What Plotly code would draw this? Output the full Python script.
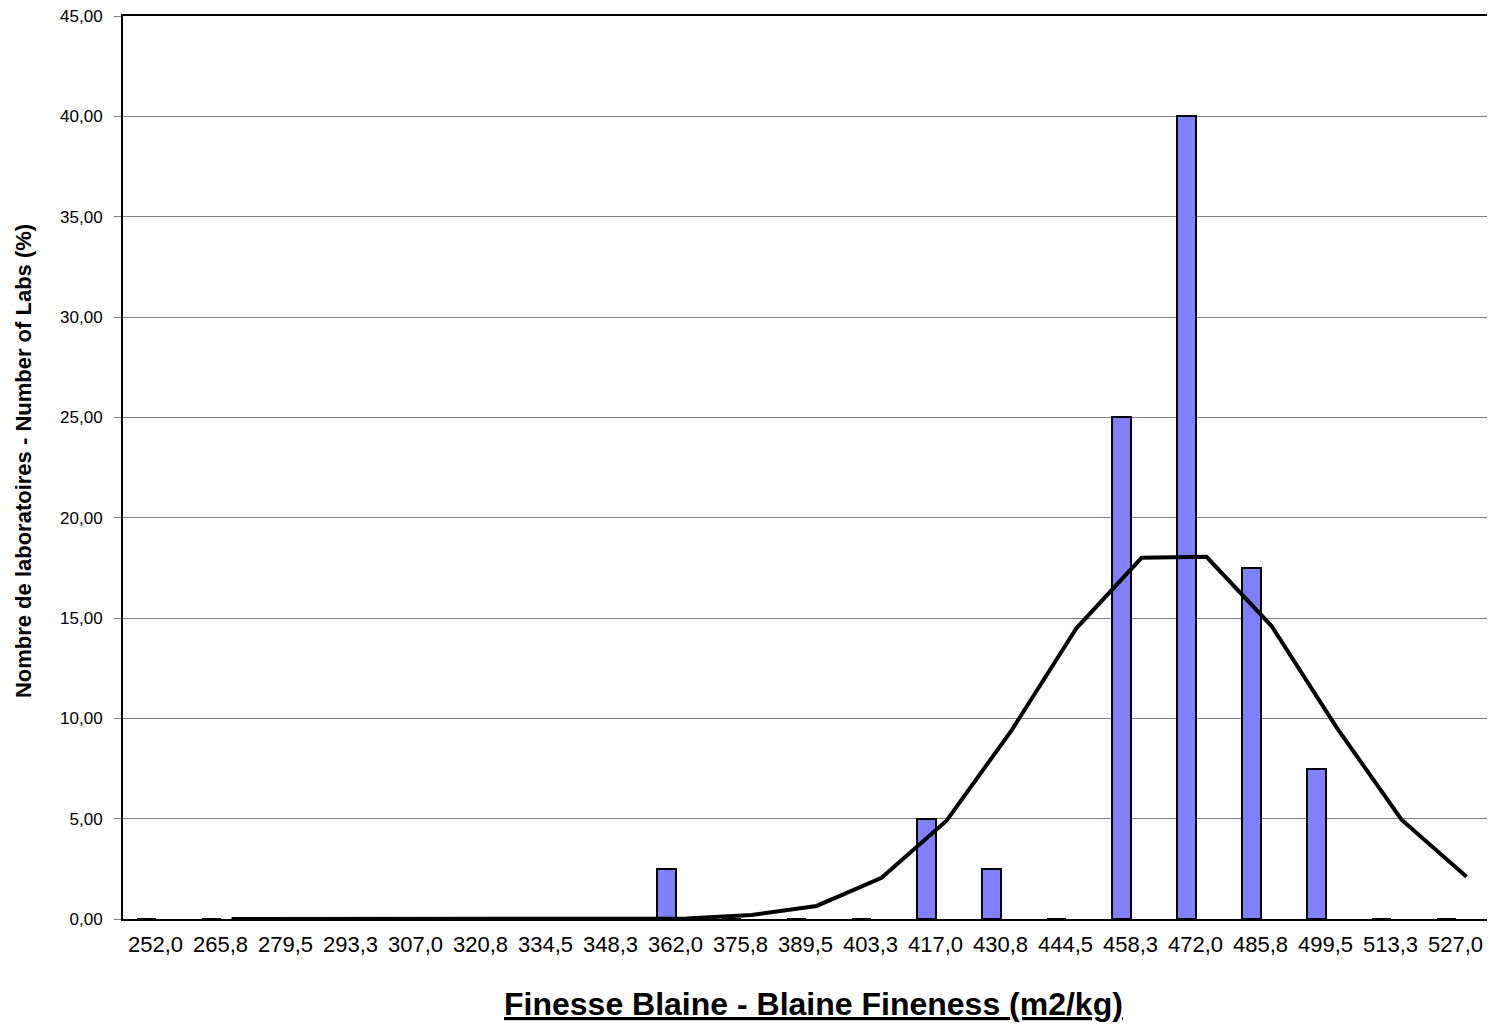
import plotly.graph_objects as go

categories = ["252,0", "265,8", "279,5", "293,3", "307,0", "320,8", "334,5", "348,3", "362,0", "375,8",
              "389,5", "403,3", "417,0", "430,8", "444,5", "458,3", "472,0", "485,8", "499,5", "513,3", "527,0"]
labs_pct = [0, 0, 0, 0, 0, 0, 0, 0, 2.5, 0, 0, 0, 5.0, 2.5, 0, 25.0, 40.0, 17.5, 7.5, 0, 0]
normal_curve = [None, 0.0, 0.0, 0.0, 0.0, 0.0, 0.0, 0.01, 0.03, 0.2, 0.65, 2.05, 4.9, 9.4, 14.5,
                18.0, 18.05, 14.6, 9.55, 4.95, 2.1]
y_ticks = [0, 5, 10, 15, 20, 25, 30, 35, 40, 45]
y_tick_labels = ["0,00", "5,00", "10,00", "15,00", "20,00", "25,00", "30,00", "35,00", "40,00", "45,00"]

idx = list(range(len(categories)))
bar_x = [i - 0.14 for i in idx]
line_x = [i + 0.17 for i in idx]

fig = go.Figure()
fig.add_trace(go.Bar(
    x=bar_x, y=labs_pct, width=0.28,
    marker=dict(color="#8080FF", line=dict(color="black", width=2)),
    showlegend=False, hoverinfo="y"))
fig.add_trace(go.Scatter(
    x=line_x, y=normal_curve, mode="lines",
    line=dict(color="black", width=4), connectgaps=False,
    showlegend=False))

font_family = "Arial, Liberation Sans, sans-serif"
fig.update_layout(
    width=1487, height=1019,
    margin=dict(l=115, r=7, t=8, b=108),
    paper_bgcolor="white", plot_bgcolor="white",
    font=dict(family=font_family, size=17, color="black"),
    bargap=0,
    xaxis=dict(
        range=[-0.5, 20.5], automargin=False,
        tickmode="array", tickvals=idx, ticktext=categories,
        showgrid=False, zeroline=False,
        showline=True, linecolor="black", linewidth=2, mirror=True,
        ticks="", tickfont=dict(size=22), ticklabelstandoff=5,
        ticklabeloverflow="allow",
    ),
    yaxis=dict(
        range=[0, 45], automargin=False,
        tickmode="array", tickvals=y_ticks, ticktext=y_tick_labels,
        showgrid=True, gridcolor="#808080", gridwidth=1,
        zeroline=False,
        showline=True, linecolor="black", linewidth=2, mirror=True,
        ticks="outside", ticklen=7, tickcolor="#808080", tickwidth=1,
        tickfont=dict(size=17), ticklabelstandoff=8,
        ticklabeloverflow="allow",
    ),
    annotations=[
        dict(text="<b><u>Finesse Blaine - Blaine Fineness (m2/kg)</u></b>",
             xref="paper", yref="paper", x=0.506, y=-0.094,
             xanchor="center", yanchor="middle", showarrow=False,
             font=dict(size=32)),
        dict(text="<b>Nombre de laboratoires - Number of Labs (%)</b>",
             xref="paper", yref="paper", x=-0.0733, y=0.507, textangle=-90,
             xanchor="center", yanchor="middle", showarrow=False,
             font=dict(size=22)),
    ],
)

fig.write_html("out.html")
